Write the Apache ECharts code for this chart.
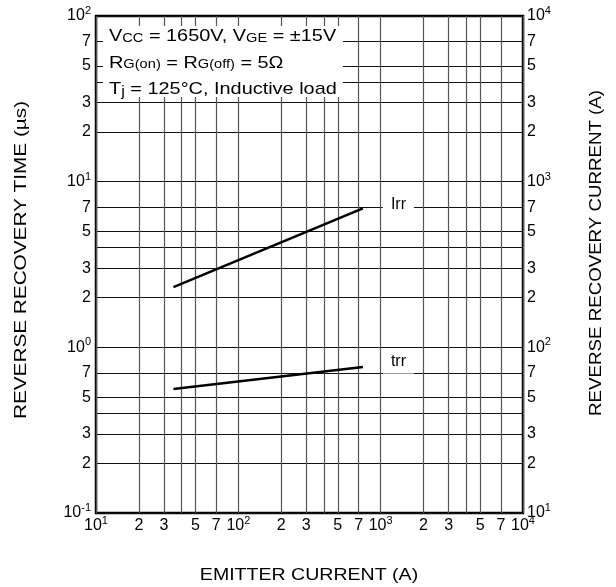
<!DOCTYPE html>
<html><head><meta charset="utf-8">
<script src="https://cdn.jsdelivr.net/npm/echarts@6/dist/echarts.min.js"></script>
<style>html,body{margin:0;padding:0;background:#fff}#c{width:616px;height:587px}</style>
</head><body><div id="c"></div>
<script>
// ---- data ----
const emitterCurrent = [35, 750];      // A (x)
const irrValues = [231, 690];          // A (right axis)
const trrValues = [0.56, 0.76];        // µs (left axis)

const xGridValues = [10,20,30,40,50,70,100,200,300,400,500,700,1000,2000,3000,4000,5000,7000,10000];
const xLabelValues = [10,20,30,50,70,100,200,300,500,700,1000,2000,3000,5000,7000,10000];
const xLabelTexts = ['10^1','2','3','5','7','10^2','2','3','5','7','10^3','2','3','5','7','10^4'];

const yLeftGridValues = [0.1,0.2,0.3,0.4,0.5,0.7,1,2,3,4,5,7,10,20,30,40,50,70,100];
const yLeftLabelValues = [0.1,0.2,0.3,0.5,0.7,1,2,3,5,7,10,20,30,50,70,100];
const yLeftLabelTexts = ['10^-1','2','3','5','7','10^0','2','3','5','7','10^1','2','3','5','7','10^2'];

const yRightLabelValues = [10,20,30,50,70,100,200,300,500,700,1000,2000,3000,5000,7000,10000];
const yRightLabelTexts = ['10^1','2','3','5','7','10^2','2','3','5','7','10^3','2','3','5','7','10^4'];

const FONT = '"Liberation Sans", Arial, Helvetica, sans-serif';

function toRich(t) {
  const p = t.split('^');
  return p.length === 2 ? '{b|' + p[0] + '}{s|' + p[1] + '}' : '{b|' + t + '}';
}
function labelFor(values, texts) {
  return function (v) {
    for (let i = 0; i < values.length; i++) {
      if (Math.abs(Math.log10(v) - Math.log10(values[i])) < 1e-6) return toRich(texts[i]);
    }
    return '';
  };
}
const tickRich = {
  b: { fontSize: 16, fontFamily: FONT, color: '#000', lineHeight: 21 },
  s: { fontSize: 11, fontFamily: FONT, color: '#000', lineHeight: 11, verticalAlign: 'top' }
};

const chart = echarts.init(document.getElementById('c'), null, { renderer: 'canvas' });

const boxRich = {
  n: { fontSize: 17, fontFamily: FONT, color: '#000', lineHeight: 26.5 },
  s: { fontSize: 12.5, fontFamily: FONT, color: '#000', lineHeight: 26.5, padding: [3, 0, 0, 0] },
  j: { fontSize: 14, fontFamily: FONT, color: '#000', lineHeight: 26.5, padding: [5, 0, 0, 0] }
};

chart.setOption({
  backgroundColor: '#fff',
  animation: false,
  grid: { left: 96, right: 93, top: 16, bottom: 74, show: true, borderColor: '#000', borderWidth: 2.5, backgroundColor: 'transparent' },
  xAxis: {
    type: 'log', logBase: 10, min: 10, max: 10000,
    axisLine: { show: false },
    axisTick: { show: false, customValues: xGridValues },
    splitLine: { show: true, lineStyle: { color: '#555', width: 1.2 } },
    axisLabel: { customValues: xLabelValues, formatter: labelFor(xLabelValues, xLabelTexts), rich: tickRich, margin: 2, interval: 0 }
  },
  yAxis: [
    {
      type: 'log', logBase: 10, min: 0.1, max: 100, position: 'left',
      axisLine: { show: false },
      axisTick: { show: false, customValues: yLeftGridValues },
      splitLine: { show: true, lineStyle: { color: '#111', width: 1 } },
      axisLabel: { customValues: yLeftLabelValues, formatter: labelFor(yLeftLabelValues, yLeftLabelTexts), rich: tickRich, margin: 5, interval: 0 }
    },
    {
      type: 'log', logBase: 10, min: 10, max: 10000, position: 'right',
      axisLine: { show: false },
      axisTick: { show: false, customValues: yRightLabelValues },
      splitLine: { show: false },
      axisLabel: { customValues: yRightLabelValues, formatter: labelFor(yRightLabelValues, yRightLabelTexts), rich: tickRich, margin: 4, interval: 0 }
    }
  ],
  series: [
    {
      name: 'Irr', type: 'line', yAxisIndex: 1, showSymbol: false, symbol: 'none',
      data: emitterCurrent.map((x, i) => [x, irrValues[i]]),
      lineStyle: { color: '#000', width: 2.6 },
      endLabel: { show: true, formatter: 'Irr', distance: 20, offset: [0, -4], backgroundColor: '#fff', padding: [2, 8, 4, 8], fontSize: 16, fontFamily: FONT, color: '#000' },
      z: 5
    },
    {
      name: 'trr', type: 'line', yAxisIndex: 0, showSymbol: false, symbol: 'none',
      data: emitterCurrent.map((x, i) => [x, trrValues[i]]),
      lineStyle: { color: '#000', width: 2.6 },
      endLabel: { show: true, formatter: 'trr', distance: 20, offset: [0, -5], backgroundColor: '#fff', padding: [2, 8, 5, 8], fontSize: 16, fontFamily: FONT, color: '#000' },
      z: 5
    }
  ],
  graphic: [
    { type: 'rect', z: 10, shape: { x: 103, y: 26, width: 240, height: 71 }, style: { fill: '#fff' } },
    {
      type: 'text', z: 11, x: 109, y: 23.5, scaleX: 1.17,
      style: {
        text: '{n|V}{s|CC}{n| = 1650V, V}{s|GE}{n| = ±15V}\n{n|R}{s|G(on)}{n| = R}{s|G(off)}{n| = 5Ω}\n{n|T}{j|j}{n| = 125°C, Inductive load}',
        rich: boxRich, textAlign: 'left', textVerticalAlign: 'top', fill: '#000'
      }
    },
    {
      type: 'text', z: 11, x: 21, y: 260, rotation: Math.PI / 2, scaleX: 1.22,
      style: { text: 'REVERSE RECOVERY TIME (µs)', font: '17px ' + FONT, fill: '#000', textAlign: 'center', textVerticalAlign: 'middle' }
    },
    {
      type: 'text', z: 11, x: 596, y: 90, rotation: Math.PI / 2, scaleX: 1.1,
      style: { text: 'REVERSE RECOVERY CURRENT (A)', font: '17px ' + FONT, fill: '#000', textAlign: 'right', textVerticalAlign: 'middle' }
    },
    {
      type: 'text', z: 11, x: 309, y: 575, scaleX: 1.15,
      style: { text: 'EMITTER CURRENT (A)', font: '17px ' + FONT, fill: '#000', textAlign: 'center', textVerticalAlign: 'middle' }
    }
  ]
});
</script>
</body></html>
